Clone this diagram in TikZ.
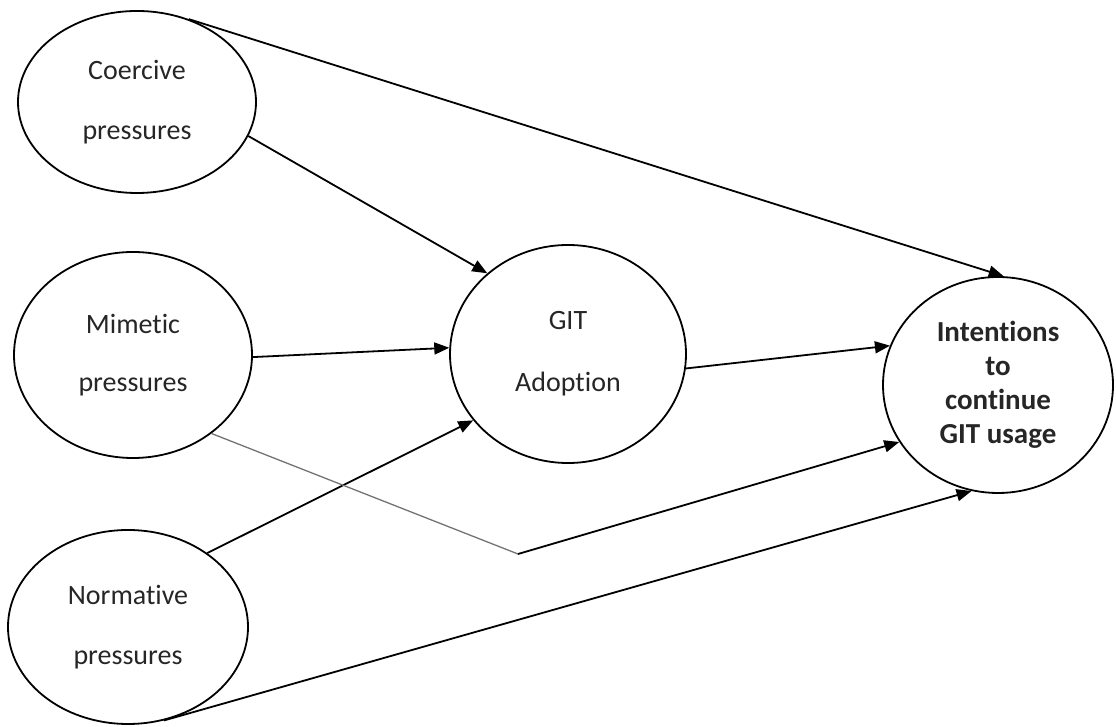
\documentclass[tikz,border=0pt]{standalone}
\usepackage{fontspec}
\setmainfont[Ligatures=NoCommon]{Carlito}
\usetikzlibrary{shapes.geometric,arrows.meta}

\begin{document}
\begin{tikzpicture}[x=1pt, y=1pt,
    factor/.style={ellipse, draw, line width=1.8pt, inner sep=0pt, align=center, text=black!85},
    link/.style={-{Triangle[length=15pt,width=12pt]}, line width=1.8pt}]
    \useasboundingbox (0,0) rectangle (1116,727);

    % Pressures
    \node [factor, minimum width=238, minimum height=182, font=\fontsize{28}{60}\selectfont] (coercive) at (137,625) {Coercive\\pressures};
    \node [factor, minimum width=238, minimum height=206, font=\fontsize{28}{58}\selectfont] (mimetic) at (133,372) {Mimetic\\pressures};
    \node [factor, minimum width=240, minimum height=194, font=\fontsize{28}{60}\selectfont] (normative) at (128,100) {Normative\\pressures};

    % Adoption and intentions
    \node [factor, minimum width=236, minimum height=218, font=\fontsize{28}{62}\selectfont] (adoption) at (568,373) {GIT\\Adoption};
    \node [factor, minimum width=230, minimum height=216, font=\fontsize{29}{34}\selectfont\bfseries] (intentions) at (998,342) {Intentions\\to\\continue\\GIT usage};

    % Arrows
    \draw[link] (coercive.58) -- (intentions.87);
    \draw[link] (coercive.-17) -- (adoption.135);
    \draw[link] (mimetic.-1) -- (adoption.177);
    \draw[link] (normative.43) -- (adoption.215);
    \draw[link] (adoption.-7) -- (intentions.160);
    \draw[link] (normative.-69) -- (intentions.256);

    % Mimetic path via corner
    \coordinate (bend) at (518,173);
    \draw[black!55, line width=1.3pt] (mimetic.-45) -- (bend);
    \draw[link] (bend) -- (intentions.210);
\end{tikzpicture}
\end{document}
